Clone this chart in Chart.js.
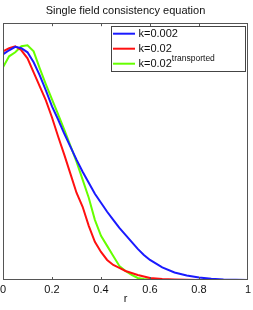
<!DOCTYPE html>
<html>
<head>
<meta charset="utf-8">
<script src="https://cdn.jsdelivr.net/npm/chart.js@4/dist/chart.umd.min.js"></script>
<style>
  html, body { margin: 0; padding: 0; background: #fff; }
  #wrap { width: 253px; height: 310px; }
</style>
</head>
<body>
<div id="wrap"><canvas id="chart1"></canvas></div>
<script>
// r values (x axis)
var rValues = [0, 0.025, 0.05, 0.075, 0.1, 0.125, 0.15, 0.175, 0.2, 0.225, 0.25, 0.275, 0.3, 0.325, 0.35, 0.375,
               0.4, 0.425, 0.45, 0.475, 0.5, 0.525, 0.55, 0.575, 0.6, 0.65, 0.7, 0.75, 0.8, 0.85, 0.9, 0.95, 1];
// curves (arbitrary units, y axis has no labels)
var k0002 = [225, 229, 232.5, 231, 227, 217, 204, 189, 173, 160, 146, 133, 120, 108, 97, 86,
             77, 68, 60, 52, 45, 38, 31, 25, 20, 12.5, 7.5, 4.5, 2.5, 1.3, 0.6, 0.2, 0];
var k002 = [228, 231, 233, 229, 221, 207, 193, 179, 162, 143, 125, 106, 87, 73, 54, 38,
            28, 20, 15, 12, 9, 7, 5, 3.5, 2, 1, 0.5, 0.2, 0, 0, 0, 0, 0];
var k002t = [212, 223, 227, 233, 234, 228, 211, 195, 180, 165, 150, 134, 118, 100, 82, 60,
             44, 34, 24, 14, 9, 5, 2, 1, 0.5, 0, 0, 0, 0, 0, 0, 0, 0];
var xTicks = [0, 0.2, 0.4, 0.6, 0.8, 1];
var seriesNames = ['k=0.002', 'k=0.02', 'k=0.02'];
var seriesColors = ['#1a1aff', '#ff1010', '#66ff00'];

function toPoints(arr) {
  var pts = [];
  for (var i = 0; i < arr.length; i++) {
    pts.push({ x: rValues[i], y: arr[i] });
  }
  return pts;
}

var allSeries = [k0002, k002, k002t];
var dataset = [];
for (var i = 0; i < allSeries.length; i++) {
  dataset.push({
    label: seriesNames[i],
    data: toPoints(allSeries[i]),
    borderColor: seriesColors[i],
    borderWidth: 2,
    pointRadius: 0,
    tension: 0
  });
}

// box around the plot with inward ticks (matlab style)
var boxPlugin = {
  id: 'box',
  afterDatasetsDraw: function (chart) {
    var ctx = chart.ctx, a = chart.chartArea, xs = chart.scales.x;
    ctx.save();
    ctx.strokeStyle = '#555';
    ctx.lineWidth = 1;
    ctx.strokeRect(Math.round(a.left) + 0.5, Math.round(a.top) + 0.5,
                   Math.round(a.right - a.left) - 1, Math.round(a.bottom - a.top) - 1);
    ctx.beginPath();
    for (var t = 1; t < xTicks.length - 1; t++) {
      var px = Math.round(xs.getPixelForValue(xTicks[t])) + 0.5;
      ctx.moveTo(px, a.bottom);
      ctx.lineTo(px, a.bottom - 3);
      ctx.moveTo(px, a.top);
      ctx.lineTo(px, a.top + 3);
    }
    ctx.stroke();

    // legend
    var lx = 111, ly = 26, lw = 134, lh = 45;
    ctx.fillStyle = '#fff';
    ctx.fillRect(lx, ly, lw, lh);
    ctx.strokeStyle = '#444';
    ctx.strokeRect(lx + 0.5, ly + 0.5, lw, lh);
    var rows = [33.7, 48.7, 63.7];
    for (var j = 0; j < seriesNames.length; j++) {
      ctx.strokeStyle = seriesColors[j];
      ctx.lineWidth = 2;
      ctx.beginPath();
      ctx.moveTo(113, rows[j]);
      ctx.lineTo(135, rows[j]);
      ctx.stroke();
      ctx.fillStyle = '#111';
      ctx.font = '11px "Liberation Sans", Arial, sans-serif';
      ctx.textBaseline = 'middle';
      ctx.fillText(seriesNames[j], 138.5, rows[j] + 0.5);
    }
    var w = ctx.measureText(seriesNames[2]).width;
    ctx.font = '8.5px "Liberation Sans", Arial, sans-serif';
    ctx.fillText('transported', 138.5 + w, rows[2] - 5);
    ctx.restore();
  }
};

var ctx = document.getElementById('chart1').getContext('2d');
var myChart = new Chart(ctx, {
  type: 'line',
  data: { datasets: dataset },
  options: {
    responsive: true,
    maintainAspectRatio: false,
    animation: false,
    layout: { padding: { left: 3, right: 5, top: 0, bottom: 0 } },
    plugins: {
      legend: { display: false },
      tooltip: { enabled: false },
      title: {
        display: true,
        text: 'Single field consistency equation',
        color: '#111',
        font: { family: '"Liberation Sans", Arial, sans-serif', size: 11, weight: 'normal' },
        padding: { top: 4, bottom: 6 }
      }
    },
    scales: {
      x: {
        type: 'linear',
        min: 0,
        max: 1,
        grid: { display: false, drawTicks: false },
        border: { display: false },
        afterBuildTicks: function (scale) {
          scale.ticks = xTicks.map(function (v) { return { value: v }; });
        },
        afterFit: function (scale) {
          scale.height = 30;
          scale.paddingLeft = 0;
          scale.paddingRight = 0;
        },
        ticks: {
          color: '#111',
          padding: 3,
          maxRotation: 0,
          autoSkip: false,
          font: { family: '"Liberation Sans", Arial, sans-serif', size: 11 },
          callback: function (v) { return String(v); }
        },
        title: {
          display: true,
          text: 'r',
          color: '#111',
          padding: { top: 0, bottom: 4 },
          font: { family: '"Liberation Sans", Arial, sans-serif', size: 11 }
        }
      },
      y: {
        display: false,
        min: 0,
        max: 256
      }
    }
  },
  plugins: [boxPlugin]
});
</script>
</body>
</html>
